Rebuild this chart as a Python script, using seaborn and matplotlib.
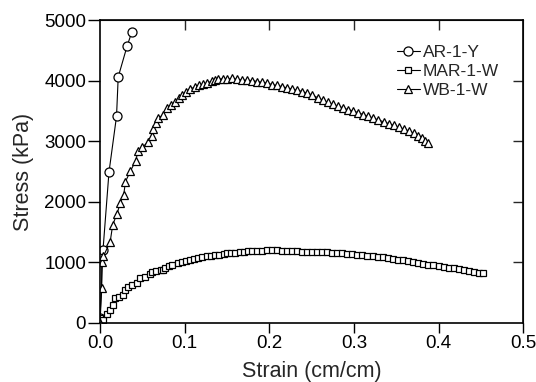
import pandas as pd
import seaborn as sns
import matplotlib.pyplot as plt

# stress-strain data
ar_strain = [0.0, 0.0035, 0.0106, 0.0195, 0.0215, 0.032, 0.0378]
ar_stress = [80, 1200, 2490, 3410, 4060, 4570, 4810]

mar_strain = [0.000, 0.003, 0.008, 0.012, 0.015, 0.018, 0.022, 0.027, 0.030, 0.033,
              0.038, 0.044, 0.047, 0.053, 0.059, 0.061, 0.066, 0.072, 0.075, 0.077,
              0.081, 0.085, 0.092, 0.097, 0.102, 0.106, 0.111, 0.116, 0.120, 0.126,
              0.131, 0.136, 0.141, 0.146, 0.150, 0.155, 0.160, 0.165, 0.170, 0.175,
              0.180, 0.186, 0.192, 0.197, 0.203, 0.209, 0.215, 0.221, 0.227, 0.233,
              0.239, 0.245, 0.250, 0.256, 0.262, 0.268, 0.274, 0.280, 0.286, 0.292,
              0.298, 0.304, 0.310, 0.316, 0.322, 0.328, 0.334, 0.340, 0.346, 0.352,
              0.358, 0.364, 0.370, 0.376, 0.382, 0.388, 0.394, 0.400, 0.406, 0.412,
              0.418, 0.424, 0.430, 0.436, 0.442, 0.448, 0.452]
mar_stress = [80, 50, 150, 215, 300, 410, 430, 470, 540, 600,
              620, 660, 740, 760, 810, 840, 850, 870, 875, 905,
              940, 955, 990, 1000, 1030, 1040, 1060, 1080, 1090, 1100,
              1110, 1120, 1130, 1140, 1150, 1155, 1160, 1170, 1175, 1180,
              1180, 1185, 1190, 1200, 1200, 1200, 1195, 1190, 1185, 1180,
              1175, 1170, 1170, 1170, 1165, 1170, 1160, 1155, 1150, 1145,
              1140, 1130, 1120, 1110, 1100, 1095, 1085, 1070, 1060, 1045,
              1035, 1020, 1005, 995, 980, 965, 955, 945, 930, 915,
              905, 895, 875, 860, 845, 830, 820]

wb_strain = [0.000, 0.002, 0.002, 0.004, 0.012, 0.015, 0.020, 0.024, 0.028, 0.030,
             0.036, 0.042, 0.045, 0.050, 0.057, 0.061, 0.063, 0.066, 0.069, 0.074,
             0.079, 0.084, 0.089, 0.093, 0.097, 0.102, 0.106, 0.112, 0.117, 0.122,
             0.127, 0.132, 0.136, 0.140, 0.145, 0.150, 0.156, 0.162, 0.168, 0.174,
             0.180, 0.186, 0.192, 0.197, 0.203, 0.209, 0.215, 0.221, 0.227, 0.233,
             0.239, 0.245, 0.251, 0.257, 0.263, 0.269, 0.275, 0.281, 0.287, 0.293,
             0.299, 0.305, 0.311, 0.317, 0.323, 0.329, 0.335, 0.341, 0.347, 0.353,
             0.359, 0.365, 0.371, 0.376, 0.380, 0.384, 0.388]
wb_stress = [0, 575, 1010, 1100, 1340, 1620, 1800, 1980, 2110, 2330,
             2510, 2670, 2840, 2900, 2990, 3090, 3200, 3300, 3380, 3430,
             3550, 3600, 3640, 3720, 3760, 3820, 3860, 3890, 3920, 3940,
             3960, 3990, 4010, 4025, 4030, 4020, 4040, 4020, 4010, 4005,
             4000, 3985, 3970, 3960, 3935, 3920, 3900, 3880, 3860, 3840,
             3820, 3790, 3760, 3720, 3680, 3640, 3610, 3580, 3550, 3520,
             3500, 3470, 3440, 3410, 3380, 3350, 3320, 3290, 3260, 3230,
             3200, 3170, 3130, 3080, 3050, 3010, 2970]

ar = pd.DataFrame({'strain': ar_strain, 'stress': ar_stress})
mar = pd.DataFrame({'strain': mar_strain, 'stress': mar_stress})
wb = pd.DataFrame({'strain': wb_strain, 'stress': wb_stress})

sns.set_style('ticks')
plt.rcParams['font.family'] = ['Liberation Sans', 'DejaVu Sans']

fig = plt.figure(figsize=(5.36, 3.82), dpi=100)
ax = fig.add_axes([0.1866, 0.1545, 0.7894, 0.7931])

common = dict(x='strain', y='stress', color='black', linewidth=0.8, sort=False,
              estimator=None, markerfacecolor='white', markeredgecolor='black',
              markeredgewidth=0.9, ax=ax)
sns.lineplot(data=ar, marker='o', markersize=6.5, label='AR-1-Y', **common)
sns.lineplot(data=mar, marker='s', markersize=4.8, label='MAR-1-W', **common)
sns.lineplot(data=wb, marker='^', markersize=5.2, label='WB-1-W', **common)

ax.set_xlim(0, 0.5)
ax.set_ylim(0, 5000)
ax.set_xticks([0.0, 0.1, 0.2, 0.3, 0.4, 0.5])
ax.set_xticklabels(['0.0', '0.1', '0.2', '0.3', '0.4', '0.5'])
ax.set_yticks([0, 1000, 2000, 3000, 4000, 5000])
ax.tick_params(axis='y', direction='out', length=9, width=1, pad=1,
               labelsize=13.5, colors='black')
ax.tick_params(axis='x', direction='out', length=7, width=1, pad=2,
               labelsize=13.5, colors='black')
for s in ax.spines.values():
    s.set_visible(True)
    s.set_linewidth(1.2)
    s.set_color('black')

# inward ticks on top and right
top = ax.secondary_xaxis('top')
top.set_xticks([0.1, 0.2, 0.3, 0.4])
top.tick_params(direction='in', length=7, width=1, labeltop=False)
right = ax.secondary_yaxis('right')
right.set_yticks([1000, 2000, 3000, 4000])
right.tick_params(direction='in', length=7, width=1, labelright=False)

ax.set_xlabel('Strain (cm/cm)', fontsize=15.5, labelpad=6)
ax.set_ylabel('Stress (kPa)', fontsize=15.5, labelpad=7)

ax.legend(loc='upper left', bbox_to_anchor=(397 / 536, 1 - 45 / 382),
          bbox_transform=fig.transFigure, frameon=False, fontsize=12.5,
          borderpad=0, borderaxespad=0, handlelength=1.3, handletextpad=0.2,
          labelspacing=0.22)

plt.savefig('out.png', dpi=100)
